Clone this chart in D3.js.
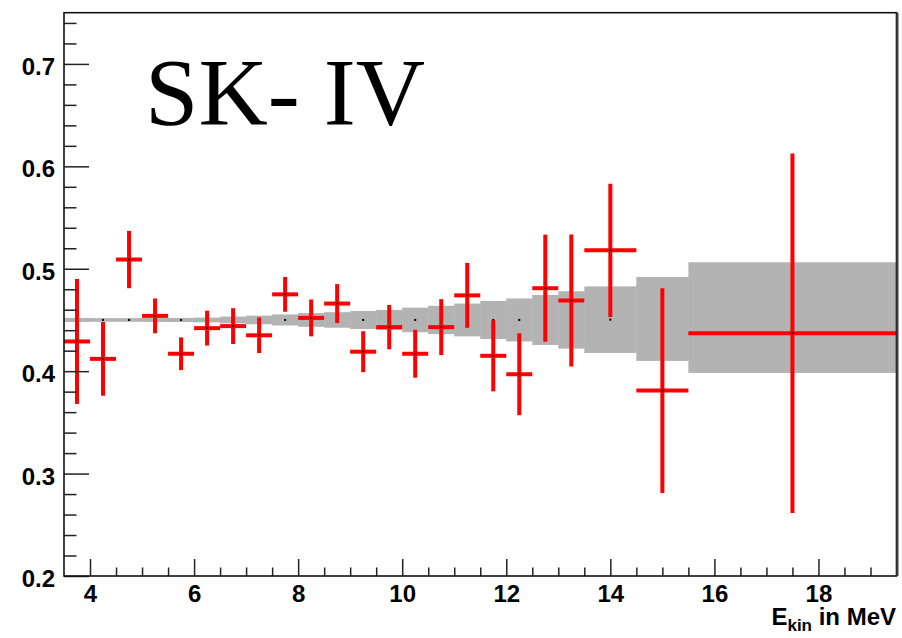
<!DOCTYPE html>
<html>
<head>
<meta charset="utf-8">
<script src="https://cdn.jsdelivr.net/npm/d3@7"></script>
<style>
	html, body { margin: 0; padding: 0; background: #fff; }
	svg text { font-family: "Liberation Sans", Arial, sans-serif; font-weight: bold; fill: #000; }
</style>
</head>
<body>
<div id="chart"></div>
<script>
// bin edges in MeV (20 bins of 0.5, then 1, 1 and 4 MeV)
const binEdges = [3.5, 4, 4.5, 5, 5.5, 6, 6.5, 7, 7.5, 8, 8.5, 9, 9.5, 10, 10.5, 11, 11.5, 12, 12.5, 13, 13.5, 14.5, 15.5, 19.5];

// measured ratio (red) and its error
const ratioValues = [0.429, 0.412, 0.509, 0.454, 0.417, 0.442, 0.444, 0.435, 0.475, 0.452, 0.466, 0.419, 0.443, 0.417, 0.443, 0.474, 0.415, 0.397, 0.481, 0.469, 0.518, 0.381, 0.437];
const ratioErrors = [0.061, 0.036, 0.028, 0.017, 0.016, 0.017, 0.0175, 0.0174, 0.017, 0.018, 0.019, 0.02, 0.0216, 0.0234, 0.0273, 0.0317, 0.0347, 0.04, 0.0523, 0.0645, 0.065, 0.1, 0.1755];

// expectation band (grey)
const bandMid = [0.45, 0.45, 0.45, 0.45, 0.45, 0.45, 0.45, 0.45, 0.45, 0.45, 0.45, 0.45, 0.45, 0.45, 0.45, 0.45, 0.45, 0.45, 0.45, 0.45, 0.4503, 0.451, 0.4523];
const bandHalf = [0.002, 0.0018, 0.0018, 0.0019, 0.002, 0.0023, 0.0033, 0.0042, 0.0054, 0.0067, 0.0076, 0.0088, 0.0098, 0.012, 0.0138, 0.016, 0.0186, 0.021, 0.0244, 0.028, 0.0325, 0.041, 0.054];

const xMajorTicks = [4, 6, 8, 10, 12, 14, 16, 18];
const yMajorTicks = [0.2, 0.3, 0.4, 0.5, 0.6, 0.7];

const svgWidth = 902;
const svgHeight = 638;
const margin = { top: 12.7, right: 5.5, bottom: 62, left: 64 };

const svg = d3
	.select("#chart")
	.append("svg")
	.attr("width", svgWidth)
	.attr("height", svgHeight);

const xScale = d3
	.scaleLinear()
	.domain([3.5, 19.5])
	.range([margin.left, svgWidth - margin.right]);

const yScale = d3
	.scaleLinear()
	.domain([0.2, 0.75])
	.range([svgHeight - margin.bottom, margin.top]);

const bins = ratioValues.map((v, i) => ({
	lo: binEdges[i],
	hi: binEdges[i + 1],
	mid: (binEdges[i] + binEdges[i + 1]) / 2,
	value: v,
	err: ratioErrors[i],
	bandMid: bandMid[i],
	bandHalf: bandHalf[i],
}));

// grey band
const bandLayer = svg.append("g").attr("class", "band");
bandLayer
	.selectAll("rect")
	.data(bins)
	.enter()
	.append("rect")
	.attr("x", (d) => xScale(d.lo))
	.attr("width", (d) => xScale(d.hi) - xScale(d.lo) + 0.5) // overlap a bit so no seams
	.attr("y", (d) => yScale(d.bandMid + d.bandHalf))
	.attr("height", (d) => yScale(d.bandMid - d.bandHalf) - yScale(d.bandMid + d.bandHalf))
	.attr("fill", "#b3b3b3");

bandLayer
	.selectAll("circle")
	.data(bins)
	.enter()
	.append("rect")
	.attr("x", (d) => xScale(d.mid) - 1)
	.attr("y", (d) => yScale(d.bandMid) - 1)
	.attr("width", 2)
	.attr("height", 2)
	.attr("fill", "#000");

// red crosses
const pointsLayer = svg.append("g").attr("class", "points");
pointsLayer
	.selectAll("line.h")
	.data(bins)
	.enter()
	.append("line")
	.attr("class", "h")
	.attr("x1", (d) => xScale(d.lo))
	.attr("x2", (d) => xScale(d.hi))
	.attr("y1", (d) => yScale(d.value))
	.attr("y2", (d) => yScale(d.value))
	.attr("stroke", "#ff0000")
	.attr("stroke-width", 4);

pointsLayer
	.selectAll("line.v")
	.data(bins)
	.enter()
	.append("line")
	.attr("class", "v")
	.attr("x1", (d) => xScale(d.mid))
	.attr("x2", (d) => xScale(d.mid))
	.attr("y1", (d) => yScale(d.value + d.err))
	.attr("y2", (d) => yScale(d.value - d.err))
	.attr("stroke", "#ff0000")
	.attr("stroke-width", 4);

pointsLayer
	.selectAll("rect")
	.data(bins)
	.enter()
	.append("rect")
	.attr("x", (d) => xScale(d.mid) - 1)
	.attr("y", (d) => yScale(d.value) - 0.75)
	.attr("width", 2)
	.attr("height", 1.5)
	.attr("fill", "#000");

// axes (ticks point inwards like ROOT)
const axesLayer = svg.append("g").attr("class", "axes");
const plotW = svgWidth - margin.right - margin.left;
const plotH = svgHeight - margin.bottom - margin.top;

const xMinor = d3.range(4, 19.5, 0.5).filter((v) => !xMajorTicks.includes(v));
const yMinor = d3.range(0.22, 0.75, 0.02).map((v) => +v.toFixed(2)).filter((v) => !yMajorTicks.some((t) => Math.abs(t - v) < 1e-6));

const xAxisG = axesLayer
	.append("g")
	.attr("transform", `translate(0 ${svgHeight - margin.bottom})`)
	.call(d3.axisBottom(xScale).tickValues(xMajorTicks).tickSize(-17).tickPadding(26).tickFormat(d3.format("d")));
axesLayer
	.append("g")
	.attr("transform", `translate(0 ${svgHeight - margin.bottom})`)
	.call(d3.axisBottom(xScale).tickValues(xMinor).tickSize(-8.5).tickFormat(""));

const yAxisG = axesLayer
	.append("g")
	.attr("transform", `translate(${margin.left} 0)`)
	.call(d3.axisLeft(yScale).tickValues(yMajorTicks).tickSize(-25).tickPadding(9).tickFormat(d3.format(".1f")));
axesLayer
	.append("g")
	.attr("transform", `translate(${margin.left} 0)`)
	.call(d3.axisLeft(yScale).tickValues(yMinor).tickSize(-12.5).tickFormat(""));

axesLayer.selectAll(".domain").remove();
axesLayer.selectAll(".tick line").attr("stroke", "#222").attr("stroke-width", 1.5);
axesLayer.selectAll("text").attr("font-size", 24).attr("font-family", null);
xAxisG.selectAll("text").attr("dy", null).attr("y", 26).attr("dominant-baseline", "auto");
yAxisG.selectAll("text").attr("dy", 10.5);

// frame
svg.append("rect")
	.attr("x", margin.left)
	.attr("y", margin.top)
	.attr("width", plotW)
	.attr("height", plotH)
	.attr("fill", "none")
	.attr("stroke", "#111")
	.attr("stroke-width", 1.6);
svg.append("line")
	.attr("x1", margin.left + plotW + 1)
	.attr("x2", margin.left + plotW + 1)
	.attr("y1", margin.top)
	.attr("y2", margin.top + plotH)
	.attr("stroke", "#444")
	.attr("stroke-width", 2);

// x axis title
const xTitle = svg.append("text")
	.attr("x", svgWidth - 6)
	.attr("y", 625)
	.attr("text-anchor", "end")
	.attr("font-size", 24);
xTitle.append("tspan").text("E");
xTitle.append("tspan").attr("font-size", 17).attr("dy", 6).text("kin");
xTitle.append("tspan").attr("dy", -6).text(" in MeV");

// label
svg.append("text")
	.attr("x", 145)
	.attr("y", 125)
	.attr("font-size", 96)
	.style("font-family", "'Liberation Serif', 'Times New Roman', serif")
	.style("font-weight", "normal")
	.text("SK- IV");
</script>
</body>
</html>
